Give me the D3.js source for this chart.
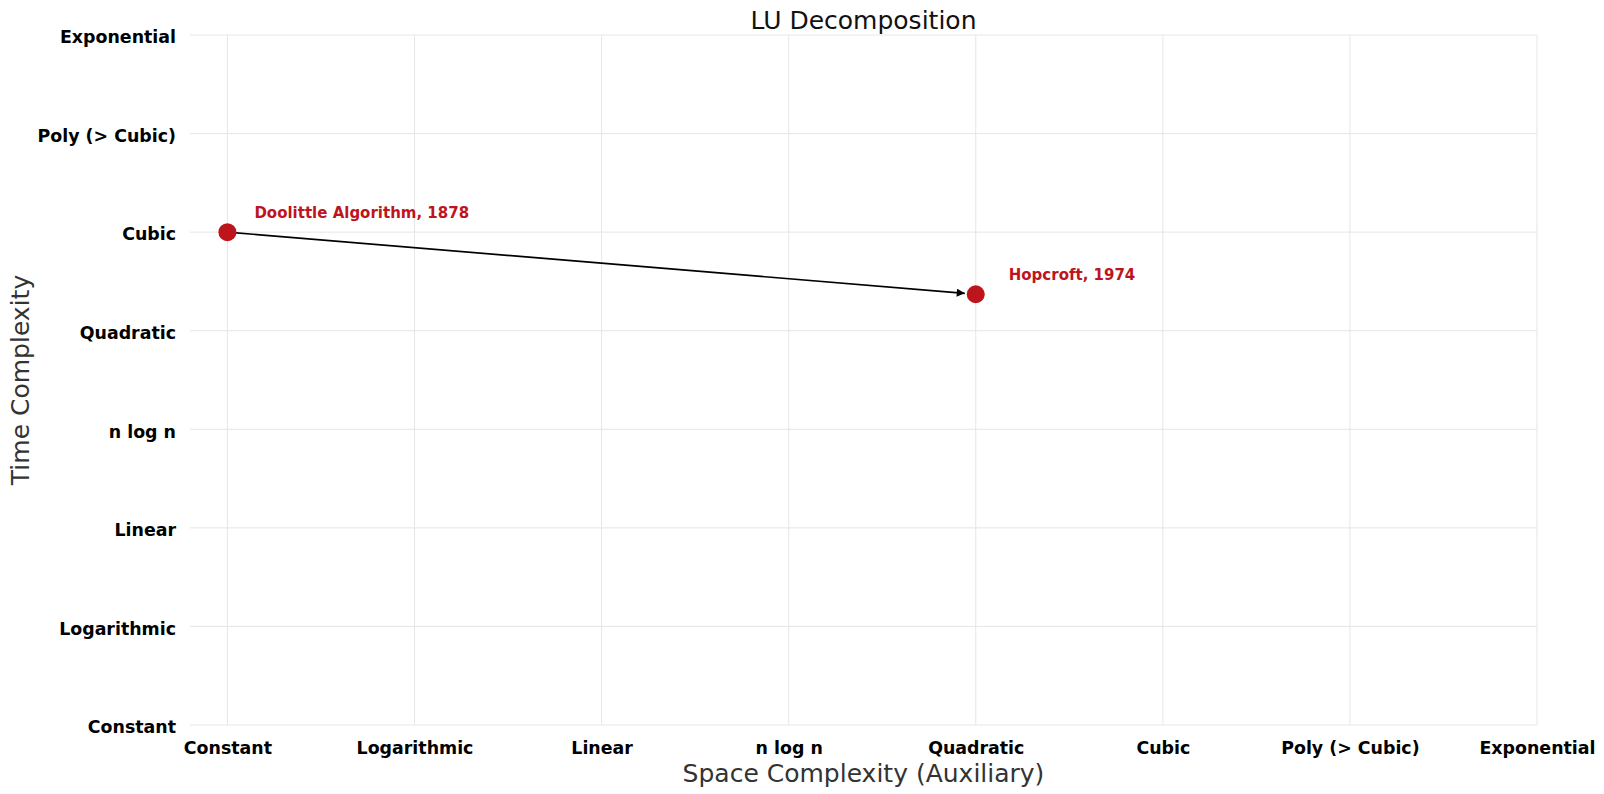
<!DOCTYPE html>
<html>
<head>
<meta charset="utf-8">
<script src="https://cdn.jsdelivr.net/npm/d3@7"></script>
<style>
  html, body { margin: 0; padding: 0; background: #fff; }
  svg { display: block; font-family: "DejaVu Sans", sans-serif; }
</style>
</head>
<body>
<svg id="chart" width="1604" height="794"></svg>
<script>
// ---- data ----
const complexityLevels = ["Constant", "Logarithmic", "Linear", "n log n", "Quadratic", "Cubic", "Poly (> Cubic)", "Exponential"];
const algorithmNames = ["Doolittle Algorithm", "Hopcroft"];
const algorithmYears = [1878, 1974];
const spaceValues = [0, 4];      // index into complexityLevels
const timeValues = [5, 4.37];    // index into complexityLevels (fractional = between levels)
const titleText = "LU Decomposition";
const xLabelText = "Space Complexity (Auxiliary)";
const yLabelText = "Time Complexity";

// ---- layout ----
const W = 1604, H = 794;
const m = { left: 190, right: W - 1537, top: 35, bottom: H - 725 };
const svg = d3.select("#chart");

const x = d3.scaleLinear().domain([-0.2, complexityLevels.length - 1]).range([m.left, W - m.right]);
const y = d3.scaleLinear().domain([0, complexityLevels.length - 1]).range([H - m.bottom, m.top]);

const ticks = d3.range(complexityLevels.length);
const gridColor = "#e6e6e6";

// grid
const g = svg.append("g");
g.selectAll("line.vx").data(ticks).join("line")
  .attr("x1", d => x(d)).attr("x2", d => x(d))
  .attr("y1", y(0)).attr("y2", y(complexityLevels.length - 1))
  .attr("stroke", gridColor).attr("stroke-width", 1);
g.selectAll("line.hy").data(ticks).join("line")
  .attr("y1", d => y(d)).attr("y2", d => y(d))
  .attr("x1", m.left).attr("x2", W - m.right)
  .attr("stroke", gridColor).attr("stroke-width", 1);

// axes
const xAxis = d3.axisBottom(x).tickValues(ticks).tickFormat(i => complexityLevels[i]).tickSize(0).tickPadding(17);
const yAxis = d3.axisLeft(y).tickValues(ticks).tickFormat(i => complexityLevels[i]).tickSize(0).tickPadding(14);

const gx = svg.append("g").attr("transform", `translate(0,${H - m.bottom})`).call(xAxis);
const gy = svg.append("g").attr("transform", `translate(${m.left},0)`).call(yAxis);
[gx, gy].forEach(a => {
  a.select(".domain").remove();
  a.selectAll("text")
    .attr("font-family", "DejaVu Sans, sans-serif")
    .attr("font-size", 17.4).attr("font-weight", "bold").attr("fill", "#000");
});
gy.selectAll("text").attr("dy", "0.45em");

// arrow marker
const defs = svg.append("defs");
defs.append("marker").attr("id", "arrowhead")
  .attr("viewBox", "0 0 10 10").attr("refX", 10).attr("refY", 5)
  .attr("markerWidth", 10).attr("markerHeight", 8).attr("markerUnits", "userSpaceOnUse")
  .attr("orient", "auto")
  .append("path").attr("d", "M0,0 L10,5 L0,10 Z").attr("fill", "#000");

// arrows between consecutive algorithms
const pts = spaceValues.map((s, i) => ({ px: x(s), py: y(timeValues[i]) }));
const r = 9;
for (let i = 0; i < pts.length - 1; i++) {
  const a = pts[i], b = pts[i + 1];
  const dx = b.px - a.px, dy = b.py - a.py, len = Math.hypot(dx, dy);
  const shrink = r + 2;
  svg.append("line")
    .attr("x1", a.px).attr("y1", a.py)
    .attr("x2", b.px - dx / len * shrink).attr("y2", b.py - dy / len * shrink)
    .attr("stroke", "#000").attr("stroke-width", 1.7)
    .attr("marker-end", "url(#arrowhead)");
}

// points
const red = "#be151c";
svg.selectAll("circle.pt").data(pts).join("circle")
  .attr("cx", d => d.px).attr("cy", d => d.py).attr("r", r).attr("fill", red);

// labels
const labelDx = [27, 33];
svg.selectAll("text.lbl").data(pts).join("text")
  .attr("x", (d, i) => d.px + labelDx[i]).attr("y", d => d.py - 19)
  .attr("dy", "0.35em")
  .attr("font-family", "DejaVu Sans, sans-serif")
  .attr("font-size", 15).attr("font-weight", "bold").attr("fill", red)
  .text((d, i) => `${algorithmNames[i]}, ${algorithmYears[i]}`);

// title
svg.append("text").attr("x", (m.left + W - m.right) / 2).attr("y", 20).attr("dy", "0.35em")
  .attr("text-anchor", "middle").attr("font-size", 25).attr("fill", "#111").text(titleText);

// axis labels
svg.append("text").attr("x", (m.left + W - m.right) / 2).attr("y", 773).attr("dy", "0.35em")
  .attr("text-anchor", "middle").attr("font-size", 25).attr("fill", "#333").text(xLabelText);
svg.append("text").attr("transform", `translate(20,${(m.top + H - m.bottom) / 2}) rotate(-90)`)
  .attr("dy", "0.35em")
  .attr("text-anchor", "middle").attr("font-size", 25).attr("fill", "#333").text(yLabelText);
</script>
</body>
</html>
